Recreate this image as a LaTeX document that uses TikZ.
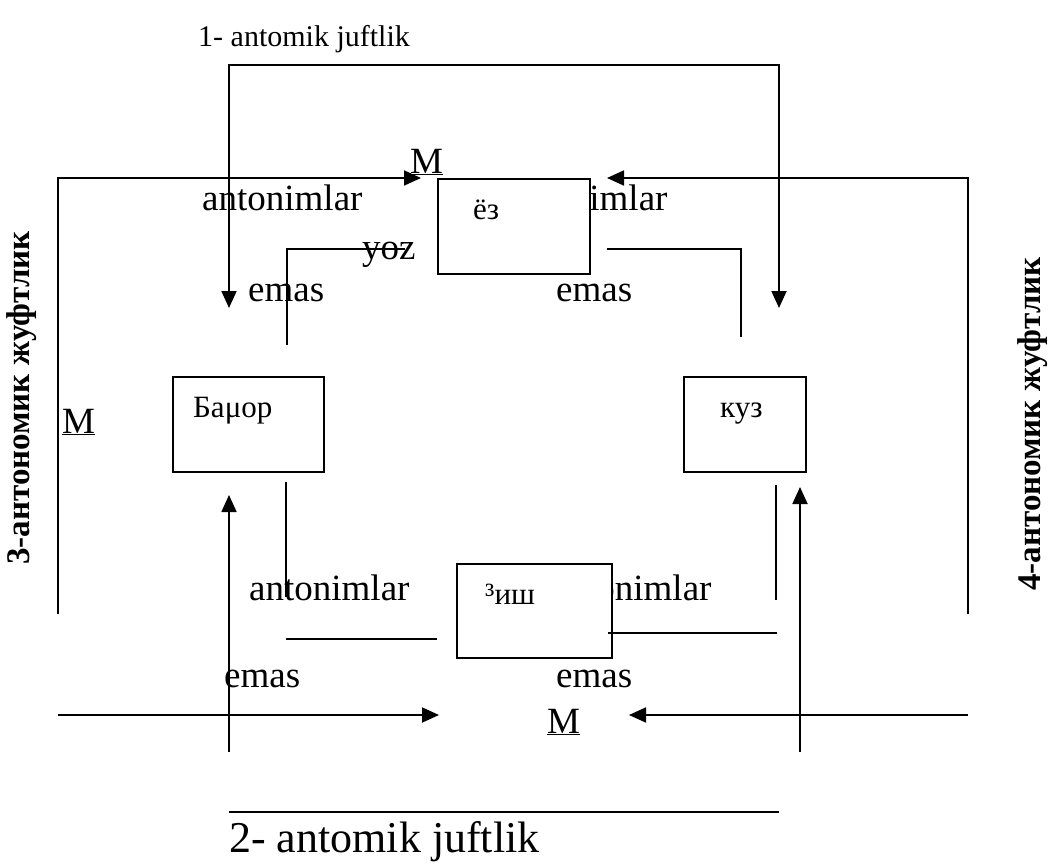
\documentclass[tikz,border=0pt]{standalone}
\usepackage{fontspec}
\setmainfont{Liberation Serif}
\usetikzlibrary{arrows.meta}
\begin{document}
\begin{tikzpicture}[x=1pt,y=-1pt,
  ln/.style={line width=1.8pt},
  tip/.tip={Triangle[length=17pt,width=15pt]},
  arr/.style={ln,-tip},
  dblarr/.style={ln,tip-tip},
  box/.style={draw,line width=1.9pt,fill=white,inner sep=0,anchor=north west},
  lbl/.style={inner sep=0,anchor=base west,font=\fontsize{37}{44}\selectfont},
  boxtxt/.style={inner sep=0,anchor=base west,font=\fontsize{31}{36}\selectfont},
  side/.style={inner sep=0,rotate=90,font=\bfseries\fontsize{33}{40}\selectfont}]
\useasboundingbox (0,0) rectangle (1049,864);

% titles of the four pairs
\node[inner sep=0,anchor=base west,font=\fontsize{30}{36}\selectfont] (t1) at (198,47) {1- antomik juftlik};
\node[inner sep=0,anchor=base west,font=\fontsize{44}{52}\selectfont] (t2) at (229,852) {2- antomik juftlik};
\node[side] (t3) at (22,398) {3-антономик жуфтлик};
\node[side] (t4) at (1033,424) {4-антономик жуфтлик};

% labels between the seasons
\node[lbl] (ant1) at (202,210) {antonimlar};
\node[lbl] (ant2) at (507,210) {antonimlar};
\node[lbl] (ant3) at (249,600) {antonimlar};
\node[lbl] (ant4) at (551,600) {antonimlar};
\node[lbl] (em1) at (248,301) {emas};
\node[lbl] (em2) at (556,301) {emas};
\node[lbl] (em3) at (224,687) {emas};
\node[lbl] (em4) at (556,687) {emas};
\node[lbl] (yoz) at (362,259) {yoz};
\node[lbl] (m1) at (410,173) {\underline{M}};
\node[lbl] (m2) at (62,433) {\underline{M}};
\node[lbl] (m3) at (547,733) {\underline{M}};

% season boxes
\node[box,minimum width=152pt,minimum height=95pt] (bez) at (437,178) {};
\node[box,minimum width=151pt,minimum height=95pt] (bah) at (172,376) {};
\node[box,minimum width=122pt,minimum height=95pt] (kuz) at (683,376) {};
\node[box,minimum width=155pt,minimum height=94pt] (qish) at (456,563) {};
\node[boxtxt] (tez) at (473,219) {ёз};
\node[boxtxt] (tbah) at (193,417) {Баμор};
\node[boxtxt] (tkuz) at (720,417) {куз};
\node[boxtxt] (tqish) at (485,604) {³иш};

% connector points
\coordinate (p1a) at (229,308); \coordinate (p1b) at (229,65);
\coordinate (p1c) at (779,65);  \coordinate (p1d) at (779,308);
\coordinate (p3a) at (58,614);  \coordinate (p3b) at (58,178);  \coordinate (p3c) at (421,178);
\coordinate (p4a) at (968,614); \coordinate (p4b) at (968,178); \coordinate (p4c) at (607,178);
\coordinate (q1a) at (287,345); \coordinate (q1b) at (287,249); \coordinate (q1c) at (405,249);
\coordinate (q2a) at (607,249); \coordinate (q2b) at (741,249); \coordinate (q2c) at (741,337);
\coordinate (q3a) at (286,482); \coordinate (q3b) at (286,597);
\coordinate (q3c) at (286,639); \coordinate (q3d) at (437,639);
\coordinate (q4a) at (776,485); \coordinate (q4b) at (776,600);
\coordinate (q4c) at (608,633); \coordinate (q4d) at (777,633);
\coordinate (u1a) at (229,752); \coordinate (u1b) at (229,495);
\coordinate (u2a) at (800,752); \coordinate (u2b) at (800,487);
\coordinate (h1a) at (58,715);  \coordinate (h1b) at (439,715);
\coordinate (h2a) at (968,715); \coordinate (h2b) at (629,715);
\coordinate (b1) at (229,812);  \coordinate (b2) at (779,812);

% pair 1 (top loop)
\draw[dblarr] (p1a) -- (p1b) -- (p1c) -- (p1d);
% pairs 3 and 4 (outer sides)
\draw[arr] (p3a) -- (p3b) -- (p3c);
\draw[arr] (p4a) -- (p4b) -- (p4c);
% inner elbows
\draw[ln] (q1a) -- (q1b) -- (q1c);
\draw[ln] (q2a) -- (q2b) -- (q2c);
\draw[ln] (q3a) -- (q3b);
\draw[ln] (q3c) -- (q3d);
\draw[ln] (q4a) -- (q4b);
\draw[ln] (q4c) -- (q4d);
% pair 2 (bottom)
\draw[arr] (u1a) -- (u1b);
\draw[arr] (u2a) -- (u2b);
\draw[arr] (h1a) -- (h1b);
\draw[arr] (h2a) -- (h2b);
\draw[ln] (b1) -- (b2);
\end{tikzpicture}
\end{document}
